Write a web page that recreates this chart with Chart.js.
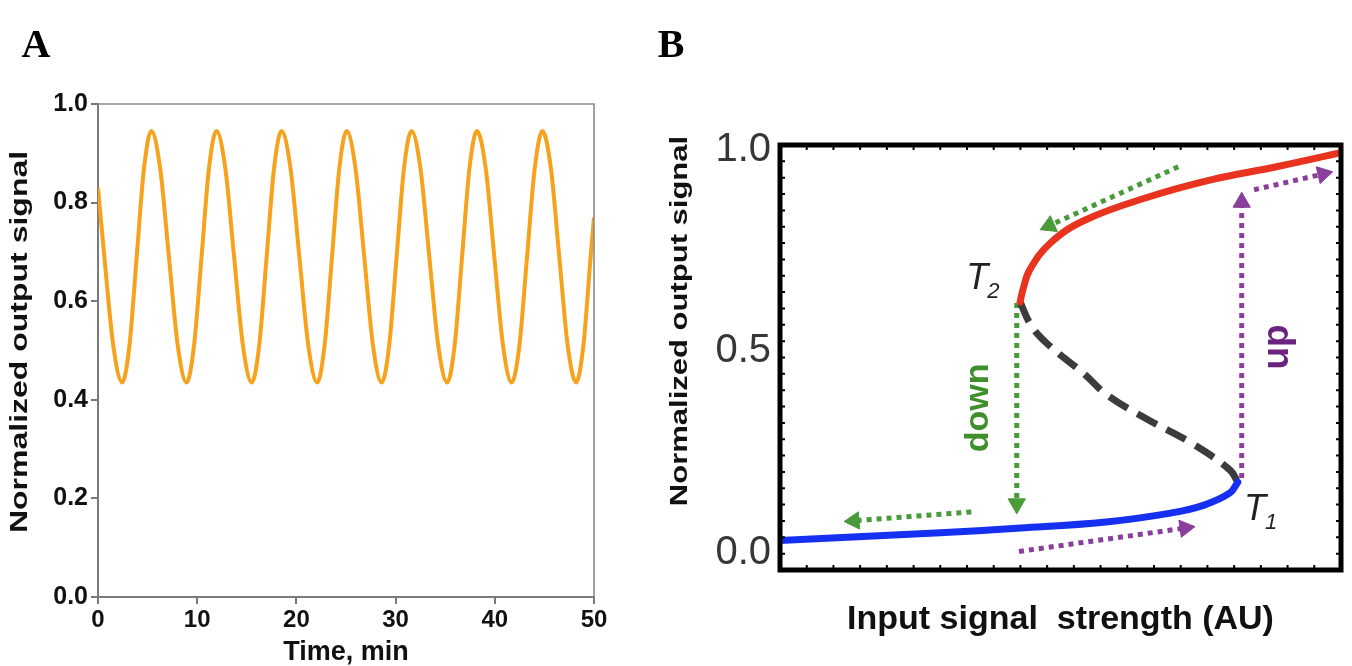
<!DOCTYPE html>
<html><head><meta charset="utf-8">
<script src="https://cdn.jsdelivr.net/npm/chart.js@4.4.1/dist/chart.umd.min.js"></script>
<style>
html,body{margin:0;padding:0;background:#fff;width:1352px;height:666px;overflow:hidden}
#ca{position:absolute;left:0;top:0}
#cb{position:absolute;left:650px;top:0}
</style></head><body>
<canvas id="ca" width="650" height="666"></canvas>
<canvas id="cb" width="702" height="666"></canvas>
<script>
// ---------- Panel A data ----------
const timeMin = [0, 0.64, 1.54, 2.44,
  3.17, 3.90, 4.64, 5.37, 6.26, 7.15, 8.04, 8.93,
  9.68, 10.44, 11.19, 11.94, 12.83, 13.72, 14.61, 15.5,
  16.25, 17.0, 17.75, 18.5, 19.4, 20.3, 21.2, 22.1,
  22.84, 23.59, 24.33, 25.07, 25.95, 26.84, 27.72, 28.6,
  29.35, 30.1, 30.85, 31.6, 32.5, 33.4, 34.3, 35.2,
  35.95, 36.7, 37.45, 38.2, 39.08, 39.95, 40.83, 41.7,
  42.48, 43.25, 44.03, 44.8, 45.65, 46.5, 47.35, 48.2,
  48.93, 49.66, 50];
const outputSignal = [0.83, 0.69, 0.51, 0.435,
  0.51, 0.69, 0.87, 0.945, 0.87, 0.69, 0.51, 0.435,
  0.51, 0.69, 0.87, 0.945, 0.87, 0.69, 0.51, 0.435,
  0.51, 0.69, 0.87, 0.945, 0.87, 0.69, 0.51, 0.435,
  0.51, 0.69, 0.87, 0.945, 0.87, 0.69, 0.51, 0.435,
  0.51, 0.69, 0.87, 0.945, 0.87, 0.69, 0.51, 0.435,
  0.51, 0.69, 0.87, 0.945, 0.87, 0.69, 0.51, 0.435,
  0.51, 0.69, 0.87, 0.945, 0.87, 0.69, 0.51, 0.435,
  0.51, 0.69, 0.77];
const timeTicks = [0, 10, 20, 30, 40, 50];
const signalTicksA = [0, 0.2, 0.4, 0.6, 0.8, 1.0];

// ---------- Panel B data ----------
const lowBranchX  = [0, 27.7, 42.9, 58.1, 69.6, 75.6, 80.2, 81.6];
const lowBranchY  = [0.031, 0.050, 0.062, 0.077, 0.099, 0.119, 0.149, 0.176];
const midBranchX  = [42.8, 44.7, 47.5, 54.4, 58.3, 65.7, 73.3, 80.2, 81.6];
const midBranchY  = [0.623, 0.566, 0.521, 0.442, 0.392, 0.330, 0.273, 0.206, 0.176];
const highBranchX = [42.8, 43.3, 44.5, 48.2, 54.4, 65.7, 77.0, 88.5, 100];
const highBranchY = [0.623, 0.653, 0.702, 0.769, 0.826, 0.883, 0.926, 0.958, 0.993];
const signalTicksB = [0, 0.5, 1.0];

// arrows: [x0,x1], [y0,y1]
const greenTopX = [71.0, 48.0],  greenTopY = [0.958, 0.812];
const greenDownX = [42.2, 42.2], greenDownY = [0.62, 0.122];
const greenLeftX = [34.1, 13.2], greenLeftY = [0.102, 0.080];
const purpleUpX = [82.3, 82.3],  purpleUpY = [0.186, 0.870];
const purpleTopX = [84.5, 96.8], purpleTopY = [0.901, 0.940];
const purpleLowX = [42.6, 72.2], purpleLowY = [0.004, 0.062];

// annotations
const pointNames = ['T', 'T'];
const pointSubs = ['2', '1'];
const pointNameX = [33.2, 82.7];
const pointNameY = [0.655, 0.082];
const arrowWords = ['down', 'up'];
const arrowWordX = [35.4, 88.7];
const arrowWordY = [0.36, 0.511];

const SANS = "'Liberation Sans', Arial, Helvetica, sans-serif";
const toXY = (xs, ys) => xs.map((x, i) => ({x: x, y: ys[i]}));

// draws a vertical (rotated) axis title with condensed glyphs
function drawCondensedVertical(ctx, text, cx, cy, size, squeeze) {
  ctx.save();
  ctx.translate(cx, cy);
  ctx.rotate(-Math.PI / 2);
  ctx.scale(1, squeeze);
  ctx.fillStyle = '#111';
  ctx.font = 'bold ' + size + 'px ' + SANS;
  ctx.textAlign = 'center';
  ctx.textBaseline = 'middle';
  ctx.fillText(text, 0, 0);
  ctx.restore();
}

// ---------- Chart A ----------
const frameA = {
  id: 'frameA',
  afterDraw(chart) {
    const {ctx, chartArea: a} = chart;
    ctx.save();
    ctx.strokeStyle = '#8a8a8a';
    ctx.lineWidth = 1.6;
    ctx.beginPath();
    ctx.moveTo(a.left, a.top); ctx.lineTo(a.right, a.top); ctx.lineTo(a.right, a.bottom);
    ctx.stroke();
    drawCondensedVertical(ctx, 'Normalized output signal', 21, 342, 32, 0.72);
    ctx.fillStyle = '#000';
    ctx.font = "bold 40px 'Liberation Serif', 'Times New Roman', serif";
    ctx.textAlign = 'center';
    ctx.textBaseline = 'alphabetic';
    ctx.fillText('A', 36, 57);
    ctx.restore();
  }
};

new Chart(document.getElementById('ca'), {
  type: 'line',
  data: {
    datasets: [{
      data: toXY(timeMin, outputSignal),
      borderColor: '#F6A21C',
      borderWidth: 4,
      pointRadius: 0,
      fill: false,
      cubicInterpolationMode: 'monotone'
    }]
  },
  options: {
    responsive: false,
    animation: false,
    layout: {padding: {left: 0, right: 56, top: 104, bottom: 0}},
    plugins: {legend: {display: false}, tooltip: {enabled: false}},
    scales: {
      x: {
        type: 'linear', min: 0, max: 50,
        afterBuildTicks: s => { s.ticks = timeTicks.map(v => ({value: v})); },
        ticks: {color: '#111', font: {family: SANS, weight: 'bold', size: 24}, padding: 2, maxRotation: 0},
        grid: {display: true, drawOnChartArea: false, drawTicks: true, tickLength: 7, color: '#7a7a7a', lineWidth: 2},
        border: {display: true, color: '#7a7a7a', width: 2},
        title: {display: true, text: 'Time, min', color: '#111', font: {family: SANS, weight: 'bold', size: 27}, padding: {top: 0, bottom: -3}},
        afterFit: s => { s.height = 69; }
      },
      y: {
        type: 'linear', min: 0, max: 1,
        afterBuildTicks: s => { s.ticks = signalTicksA.map(v => ({value: v})); },
        ticks: {color: '#111', font: {family: SANS, weight: 'bold', size: 25}, padding: 3, callback: v => v.toFixed(1)},
        grid: {display: true, drawOnChartArea: false, drawTicks: true, tickLength: 7, color: '#7a7a7a', lineWidth: 2},
        border: {display: true, color: '#7a7a7a', width: 2},
        title: {display: false},
        afterFit: s => { s.width = 98; }
      }
    }
  },
  plugins: [frameA]
});

// ---------- Chart B ----------
const frameB = {
  id: 'frameB',
  afterDatasetsDraw(chart) {
    const {ctx, chartArea: a, scales} = chart;
    const xs = scales.x, ys = scales.y;
    ctx.save();
    // annotations T2, T1
    ctx.fillStyle = '#222';
    ctx.textBaseline = 'alphabetic';
    ctx.textAlign = 'left';
    pointNames.forEach((n, i) => {
      const px = xs.getPixelForValue(pointNameX[i]);
      const py = ys.getPixelForValue(pointNameY[i]);
      ctx.font = 'italic 36px ' + SANS;
      ctx.fillText(n, px, py);
      const w = ctx.measureText(n).width;
      ctx.font = 'italic 22px ' + SANS;
      ctx.fillText(pointSubs[i], px + w - 1, py + 9);
    });
    // rotated words
    const wordColors = ['#3f8f2c', '#6b2380'];
    const wordSizes = [34, 37];
    arrowWords.forEach((wd, i) => {
      const px = xs.getPixelForValue(arrowWordX[i]);
      const py = ys.getPixelForValue(arrowWordY[i]);
      ctx.save();
      ctx.translate(px, py);
      ctx.rotate(-Math.PI / 2);
      ctx.fillStyle = wordColors[i];
      ctx.font = 'bold ' + wordSizes[i] + 'px ' + SANS;
      ctx.textAlign = 'center';
      ctx.textBaseline = 'middle';
      ctx.fillText(wd, 0, 0);
      ctx.restore();
    });
    // frame
    ctx.strokeStyle = '#000';
    ctx.lineWidth = 5;
    ctx.strokeRect(a.left, a.top, a.right - a.left, a.bottom - a.top);
    ctx.lineWidth = 2;
    ctx.beginPath();
    const nh = 21, nv = 26;
    for (let i = 1; i < nh; i++) {
      const x = a.left + (a.right - a.left) * i / nh;
      ctx.moveTo(x, a.top); ctx.lineTo(x, a.top + 5);
      ctx.moveTo(x, a.bottom); ctx.lineTo(x, a.bottom - 5);
    }
    for (let i = 1; i < nv; i++) {
      const y = a.top + (a.bottom - a.top) * i / nv;
      ctx.moveTo(a.left, y); ctx.lineTo(a.left + 5, y);
      ctx.moveTo(a.right, y); ctx.lineTo(a.right - 5, y);
    }
    ctx.stroke();
    drawCondensedVertical(ctx, 'Normalized output signal', 31, 321, 31, 0.75);
    // panel label
    ctx.fillStyle = '#000';
    ctx.font = "bold 40px 'Liberation Serif', 'Times New Roman', serif";
    ctx.textAlign = 'center';
    ctx.textBaseline = 'alphabetic';
    ctx.fillText('B', 21, 57);
    ctx.restore();
  }
};

function arrowSet(xs, ys, color, rot) {
  return {
    data: toXY(xs, ys),
    borderColor: color,
    borderWidth: 5,
    borderDash: [5, 5],
    borderCapStyle: 'butt',
    tension: 0,
    pointStyle: 'triangle',
    pointRadius: [0, 10],
    pointRotation: [0, rot],
    pointBackgroundColor: color,
    pointBorderColor: color,
    pointBorderWidth: 1,
    fill: false
  };
}

const GREEN = '#4a9a3c', PURPLE = '#8a3f9c';
new Chart(document.getElementById('cb'), {
  type: 'line',
  data: {
    datasets: [
      {data: toXY(lowBranchX, lowBranchY), borderColor: '#1530f0', borderWidth: 7, pointRadius: 0, tension: 0.4, fill: false, borderCapStyle: 'round'},
      {data: toXY(highBranchX, highBranchY), borderColor: '#e8341f', borderWidth: 7, pointRadius: 0, tension: 0.4, fill: false, borderCapStyle: 'round'},
      {data: toXY(midBranchX, midBranchY), borderColor: '#3c3c3c', borderWidth: 7, borderDash: [22, 11], pointRadius: 0, tension: 0.4, fill: false},
      arrowSet(greenTopX, greenTopY, GREEN, 246),
      arrowSet(greenDownX, greenDownY, GREEN, 180),
      arrowSet(greenLeftX, greenLeftY, GREEN, 266),
      arrowSet(purpleUpX, purpleUpY, PURPLE, 0),
      arrowSet(purpleTopX, purpleTopY, PURPLE, 77),
      arrowSet(purpleLowX, purpleLowY, PURPLE, 82)
    ]
  },
  options: {
    responsive: false,
    animation: false,
    layout: {padding: {left: 0, right: 6, top: 145, bottom: 0}},
    plugins: {legend: {display: false}, tooltip: {enabled: false}},
    scales: {
      x: {
        type: 'linear', min: 0, max: 100,
        ticks: {display: false},
        grid: {display: false, drawTicks: false},
        border: {display: false},
        title: {display: true, text: 'Input signal  strength (AU)', color: '#111', font: {family: SANS, weight: 'bold', size: 34}, padding: {top: 0, bottom: 26}},
        afterFit: s => { s.height = 96; }
      },
      y: {
        type: 'linear', min: -0.042, max: 1.012,
        afterBuildTicks: s => { s.ticks = signalTicksB.map(v => ({value: v})); },
        ticks: {color: '#363636', font: {family: SANS, size: 40}, padding: 9, callback: v => v.toFixed(1)},
        grid: {display: false, drawTicks: false},
        border: {display: false},
        title: {display: false},
        afterFit: s => { s.width = 130; }
      }
    }
  },
  plugins: [frameB]
});
</script>
</body></html>
